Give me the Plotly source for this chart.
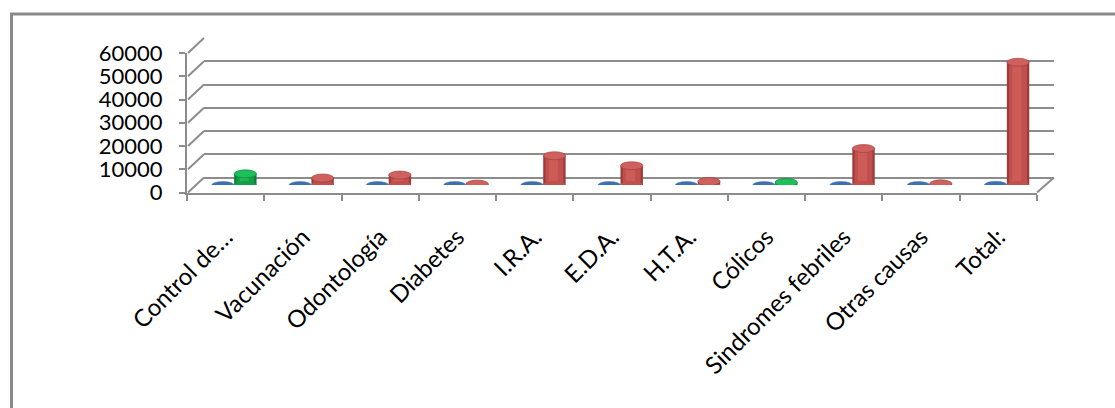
import plotly.graph_objects as go

# Categories and series
categorias = ["Control de…", "Vacunación", "Odontología", "Diabetes", "I.R.A.",
              "E.D.A.", "H.T.A.", "Cólicos", "Sindromes febriles", "Otras causas", "Total:"]
porcentaje = [9, 6, 8, 1, 24, 16, 3, 2, 30, 1, 100]
casos = [4800, 3000, 4300, 400, 12600, 8300, 1500, 1100, 15700, 500, 52800]
verde = {"Control de…", "Cólicos"}

y_ticks = [0, 10000, 20000, 30000, 40000, 50000, 60000]
Y_MAX = 60000

W, H = 1115, 408
def px(x):
    return x / W
def py(y):
    return 1 - y / H

# Front plane of the 3D box, and depth offset to the back wall
FX0, FX1, FY0, FY1 = 187, 1037, 192.5, 53
DX, DY = 17, -15
GRID = "#8c8c8c"

n = len(categorias)
idx = list(range(n))

body = ["#129f47" if c in verde else "#c0504d" for c in categorias]
edge = ["#0b7f37" if c in verde else "#9c3b39" for c in categorias]
light = ["#22b85a" if c in verde else "#cd5c59" for c in categorias]
top = ["#1cc05a" if c in verde else "#d0605d" for c in categorias]

BW = 0.29  # bar width in category units

fig = go.Figure()

# Invisible trace carrying the categories on the front axes
fig.add_trace(go.Scatter(x=categorias, y=[0] * n, mode="markers", marker=dict(opacity=0),
                         hoverinfo="skip", showlegend=False))

# Blue series (near-zero values)
fig.add_trace(go.Bar(x=idx, y=porcentaje, width=BW, offset=-BW, marker_color="#4f81bd",
                     xaxis="x3", yaxis="y3", showlegend=False))
# Main series: darker outer body, lighter inner body for cylinder shading
fig.add_trace(go.Bar(x=idx, y=casos, width=BW, offset=0, marker=dict(color=edge, line_width=0),
                     xaxis="x3", yaxis="y3", showlegend=False))
fig.add_trace(go.Bar(x=idx, y=casos, width=BW * 0.8, offset=BW * 0.1, marker=dict(color=body, line_width=0),
                     xaxis="x3", yaxis="y3", showlegend=False))
fig.add_trace(go.Bar(x=idx, y=casos, width=BW * 0.4, offset=BW * 0.25, marker=dict(color=light, line_width=0),
                     xaxis="x3", yaxis="y3", showlegend=False))

shapes = []
# Cylinder bottoms and tops
for i, v in enumerate(casos):
    shapes.append(dict(type="circle", xref="x3", yref="y3", ysizemode="pixel", yanchor=0,
                       x0=i, x1=i + BW, y0=-4, y1=4, fillcolor=body[i], line_width=0, layer="above"))
    shapes.append(dict(type="circle", xref="x3", yref="y3", ysizemode="pixel", yanchor=v,
                       x0=i, x1=i + BW, y0=-4, y1=4, fillcolor=top[i],
                       line=dict(color=edge[i], width=0.6), layer="above"))
for i, v in enumerate(porcentaje):
    shapes.append(dict(type="circle", xref="x3", yref="y3", ysizemode="pixel", yanchor=v,
                       x0=i - BW, x1=i, y0=-3.5, y1=3.5, fillcolor="#3e6fae",
                       line=dict(color="#4f81bd", width=0.5), layer="above"))

# Side wall diagonals from front axis to back wall
for t in y_ticks:
    yf = FY0 + (FY1 - FY0) * t / Y_MAX
    shapes.append(dict(type="line", xref="paper", yref="paper",
                       x0=px(FX0 + 1), y0=py(yf), x1=px(FX0 + DX), y1=py(yf + DY),
                       line=dict(color=GRID, width=2), layer="below"))
# Floor right edge
shapes.append(dict(type="line", xref="paper", yref="paper",
                   x0=px(FX1), y0=py(FY0), x1=px(FX1 + DX), y1=py(FY0 + DY),
                   line=dict(color=GRID, width=2), layer="below"))
# Chart area border (left and top)
shapes.append(dict(type="line", xref="paper", yref="paper", x0=px(11.5), y0=py(14), x1=px(11.5), y1=0,
                   line=dict(color="#8a8a8a", width=3)))
shapes.append(dict(type="line", xref="paper", yref="paper", x0=px(10), y0=py(14), x1=1, y1=py(14),
                   line=dict(color="#8a8a8a", width=3)))

YFONT = dict(family="Lato, Open Sans, sans-serif", size=22, color="#000000")
XFONT = dict(family="Lato, Open Sans, sans-serif", size=24, color="#000000")

# Back-wall y range padded a hair so the top gridline is drawn
PAD = 60
BACK_TOP = FY1 + DY - (FY0 - FY1) * PAD / Y_MAX

fig.update_layout(
    template="none",
    width=W, height=H,
    margin=dict(l=0, r=0, t=0, b=0, autoexpand=False),
    paper_bgcolor="white", plot_bgcolor="rgba(0,0,0,0)",
    barmode="overlay",
    showlegend=False,
    shapes=shapes,
    # Front axes: tick labels and axis lines
    xaxis=dict(domain=[px(FX0), px(FX1)], anchor="y", type="category", range=[-0.5, n - 0.5],
               tickson="boundaries", automargin=False,
               ticks="outside", ticklen=6, tickwidth=2, tickcolor=GRID,
               showline=True, linecolor=GRID, linewidth=2, showgrid=False, zeroline=False,
               tickangle=-45, tickfont=XFONT, ticklabelstandoff=19),
    yaxis=dict(domain=[py(FY0), py(FY1)], anchor="x", range=[0, Y_MAX], automargin=False,
               tickmode="array", tickvals=y_ticks, ticktext=[str(t) for t in y_ticks],
               ticks="outside", ticklen=6, tickwidth=2, tickcolor=GRID,
               showline=True, linecolor=GRID, linewidth=2, showgrid=False, zeroline=False,
               tickfont=YFONT, ticklabelstandoff=12),
    # Back wall gridlines
    xaxis2=dict(domain=[px(FX0 + DX), px(FX1 + DX)], anchor="y2", range=[0, 1], automargin=False,
                showgrid=False, showticklabels=False, zeroline=False, showline=False, ticks=""),
    yaxis2=dict(domain=[py(FY0 + DY), py(BACK_TOP)], anchor="x2", range=[0, Y_MAX + PAD],
                automargin=False, tickvals=y_ticks, showticklabels=False, ticks="", showline=False,
                showgrid=True, gridcolor=GRID, gridwidth=2,
                zeroline=True, zerolinecolor=GRID, zerolinewidth=2),
    # Mid-depth plane for the cylinders
    xaxis3=dict(domain=[px(FX0 + DX / 2), px(FX1 + DX / 2)], anchor="y3", range=[-0.5, n - 0.5],
                automargin=False, showgrid=False, showticklabels=False, zeroline=False,
                showline=False, ticks=""),
    yaxis3=dict(domain=[py(FY0 + DY / 2), py(FY1 + DY / 2)], anchor="x3", range=[0, Y_MAX],
                automargin=False, showgrid=False, showticklabels=False, zeroline=False,
                showline=False, ticks=""),
)

# Invisible trace so the back-wall axes are drawn
fig.add_trace(go.Scatter(x=[0], y=[0], xaxis="x2", yaxis="y2", mode="markers",
                         marker=dict(opacity=0), hoverinfo="skip", showlegend=False))

fig.write_html("out.html")
